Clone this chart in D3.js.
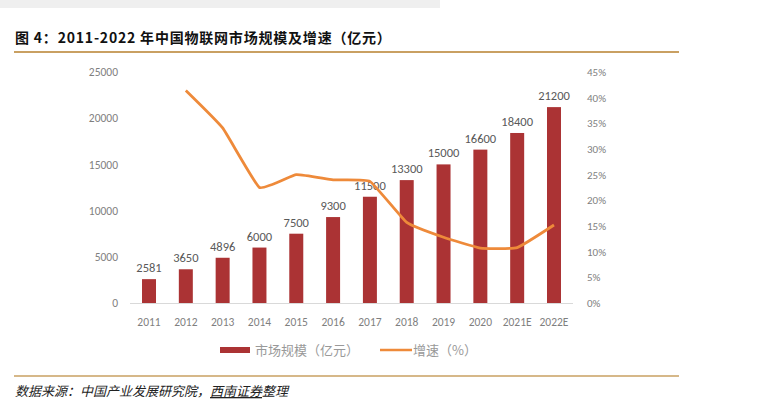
<!DOCTYPE html>
<html><head><meta charset="utf-8">
<script src="https://cdn.jsdelivr.net/npm/d3@7/dist/d3.min.js"></script>
<style>body{margin:0;background:#fff;}svg{display:block;}</style>
</head><body>
<svg id="c" width="776" height="408"></svg>
<script>
const categories = ["2011","2012","2013","2014","2015","2016","2017","2018","2019","2020","2021E","2022E"];
const marketSize = [2581,3650,4896,6000,7500,9300,11500,13300,15000,16600,18400,21200];
const growth = [null,41.4,34.1,22.5,25.0,24.0,23.7,15.7,12.8,10.7,10.8,15.2];
const leftTicks = [0,5000,10000,15000,20000,25000];
const rightTicks = [0,5,10,15,20,25,30,35,40,45];
const title = "图 4：2011-2022 年中国物联网市场规模及增速（亿元）";
const seriesNames = ["市场规模（亿元）","增速（%）"];

const svg = d3.select("#c");
const font = "'Noto Sans CJK SC','Noto Sans',sans-serif";
const tickFont = "Calibri,'Open Sans','Noto Sans',sans-serif";

svg.append("rect").attr("x",0).attr("y",0).attr("width",440).attr("height",8).attr("fill","#efefef");

svg.append("text").attr("x",15).attr("y",43).attr("font-family",font).attr("font-weight","bold")
  .attr("font-size",14).attr("letter-spacing",0.8).attr("fill","#111").text(title);
svg.append("line").attr("x1",14).attr("x2",679).attr("y1",52).attr("y2",52).attr("stroke","#c9a062").attr("stroke-width",2);

const x = d3.scaleBand().domain(categories).range([130.6,572.4]).paddingInner(0.62).paddingOuter(0.31);
const y = d3.scaleLinear().domain([0,25000]).range([303,72]);
const y2 = d3.scaleLinear().domain([0,45]).range([303,72]);

svg.append("line").attr("x1",130).attr("x2",573).attr("y1",303.5).attr("y2",303.5).attr("stroke","#d9d9d9").attr("stroke-width",1);

const leftAxis = d3.axisLeft(y).tickValues(leftTicks).tickSize(0).tickPadding(0).tickFormat(d=>String(d));
const gl = svg.append("g").attr("transform","translate(118,0)").call(leftAxis);
gl.select(".domain").remove();
gl.selectAll("text").attr("font-family",tickFont).attr("font-size",11.5).attr("fill","#7f7f7f");

const rightAxis = d3.axisRight(y2).tickValues(rightTicks).tickSize(0).tickPadding(0).tickFormat(d=>d+"%");
const gr = svg.append("g").attr("transform","translate(587,0)").call(rightAxis);
gr.select(".domain").remove();
gr.selectAll("text").attr("font-family",tickFont).attr("font-size",11).attr("fill","#7f7f7f");

const bottomAxis = d3.axisBottom(x).tickSize(0).tickPadding(0);
const gb = svg.append("g").attr("transform","translate(0,322)").call(bottomAxis);
gb.select(".domain").remove();
gb.selectAll("text").attr("font-family",tickFont).attr("font-size",11.5).attr("fill","#7f7f7f").attr("dy","0.32em");

svg.append("g").selectAll("rect").data(marketSize).join("rect")
  .attr("x",(d,i)=>x(categories[i])).attr("width",x.bandwidth())
  .attr("y",d=>y(d)).attr("height",d=>y(0)-y(d)).attr("fill","#ab3334");

svg.append("g").selectAll("text").data(marketSize).join("text")
  .attr("x",(d,i)=>x(categories[i])+x.bandwidth()/2).attr("y",d=>y(d)-7)
  .attr("text-anchor","middle").attr("font-family",tickFont).attr("font-size",12.5).attr("fill","#595959")
  .text(d=>d);

const pts = growth.map((g,i)=>[g,i]).filter(p=>p[0]!==null);
const line = d3.line().x(p=>x(categories[p[1]])+x.bandwidth()/2).y(p=>y2(p[0])).curve(d3.curveCardinal.tension(0.65));
svg.append("path").attr("d",line(pts)).attr("fill","none").attr("stroke","#ee8a3a").attr("stroke-width",2.8).attr("stroke-linejoin","round");

const lg = svg.append("g").attr("transform","translate(0,350)");
lg.append("rect").attr("x",220).attr("y",-3).attr("width",30).attr("height",6).attr("fill","#ab3334");
lg.append("text").attr("x",255).attr("y",0).attr("dy","0.35em").attr("font-family",font).attr("font-size",13).attr("fill","#999").text(seriesNames[0]);
lg.append("line").attr("x1",380).attr("x2",412).attr("y1",0).attr("y2",0).attr("stroke","#ee8a3a").attr("stroke-width",2.5);
lg.append("text").attr("x",413).attr("y",0).attr("dy","0.35em").attr("font-family",font).attr("font-size",13).attr("fill","#999").text(seriesNames[1]);

svg.append("line").attr("x1",14).attr("x2",679).attr("y1",376).attr("y2",376).attr("stroke","#c9a062").attr("stroke-width",1.5);
const ft = svg.append("text").attr("x",15).attr("y",396).attr("font-family",font).attr("font-size",13).attr("font-style","italic").attr("fill","#222");
ft.append("tspan").text("数据来源：中国产业发展研究院，");
ft.append("tspan").attr("text-decoration","underline").text("西南证券");
ft.append("tspan").text("整理");
</script>
</body></html>
